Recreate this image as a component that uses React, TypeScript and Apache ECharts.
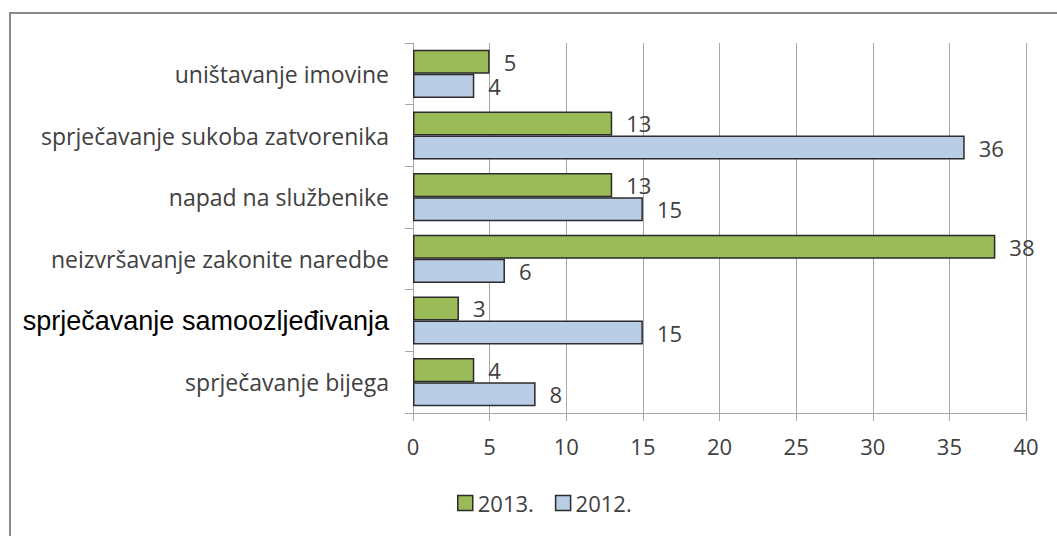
import React, { useEffect, useRef } from "react";
import * as echarts from "echarts";

const categories = [
  "uništavanje imovine",
  "sprječavanje sukoba zatvorenika",
  "napad na službenike",
  "neizvršavanje zakonite naredbe",
  "sprječavanje samoozljeđivanja",
  "sprječavanje bijega",
];
const special = "sprječavanje samoozljeđivanja";
const values2013 = [5, 13, 13, 38, 3, 4];
const values2012 = [4, 36, 15, 6, 15, 8];
const seriesNames = ["2013.", "2012."];

const FONT = "'Open Sans', sans-serif";

export default function App() {
  const ref = useRef<HTMLDivElement>(null);
  useEffect(() => {
    const chart = echarts.init(ref.current!, null, { renderer: "svg" });
    const label = {
      show: true,
      position: "right",
      distance: 14,
      color: "#404040",
      fontSize: 22,
      fontFamily: FONT,
    };
    chart.setOption({
      animation: false,
      backgroundColor: "#fff",
      textStyle: { fontFamily: FONT },
      graphic: [
        {
          type: "rect",
          shape: { x: 10, y: 13, width: 1100, height: 600 },
          style: { fill: "none", stroke: "#8a8a8a", lineWidth: 2 },
          silent: true,
        },
      ],
      grid: { left: 413, right: 31, top: 43, bottom: 123, containLabel: false },
      legend: {
        bottom: 17,
        left: 452,
        icon: "rect",
        itemWidth: 15,
        itemHeight: 15,
        itemGap: 21,
        itemStyle: { borderColor: "#2b2b2b", borderWidth: 1.5 },
        textStyle: { fontSize: 22, color: "#404040", fontFamily: FONT },
        data: seriesNames,
      },
      xAxis: {
        type: "value",
        min: 0,
        max: 40,
        interval: 5,
        axisLine: { show: true, lineStyle: { color: "#a6a6a6" } },
        axisTick: { show: true, length: 8, lineStyle: { color: "#a6a6a6" } },
        splitLine: { show: true, lineStyle: { color: "#a6a6a6" } },
        axisLabel: { fontSize: 22, color: "#404040", margin: 22, fontFamily: FONT },
      },
      yAxis: {
        type: "category",
        inverse: true,
        data: categories,
        axisLine: { show: true, lineStyle: { color: "#a6a6a6" } },
        axisTick: { show: true, length: 8, lineStyle: { color: "#a6a6a6" } },
        axisLabel: {
          fontSize: 23,
          color: "#404040",
          margin: 24,
          fontFamily: FONT,
          formatter: (v: string) => (v === special ? `{b|${v}}` : v),
          rich: {
            b: {
              fontSize: 27,
              color: "#000",
              fontFamily: "'Liberation Sans', Arial, sans-serif",
            },
          },
        },
      },
      series: [
        {
          name: seriesNames[0],
          type: "bar",
          data: values2013,
          barGap: "0%",
          barCategoryGap: "22%",
          itemStyle: { color: "#9bbb59", borderColor: "#2b2b2b", borderWidth: 1.5 },
          label,
        },
        {
          name: seriesNames[1],
          type: "bar",
          data: values2012,
          barGap: "0%",
          barCategoryGap: "22%",
          itemStyle: { color: "#b9cde5", borderColor: "#2b2b2b", borderWidth: 1.5 },
          label,
        },
      ],
    });
    return () => chart.dispose();
  }, []);
  return (
    <div
      ref={ref}
      style={{ position: "fixed", left: 0, top: 0, width: 1057, height: 536 }}
    />
  );
}
